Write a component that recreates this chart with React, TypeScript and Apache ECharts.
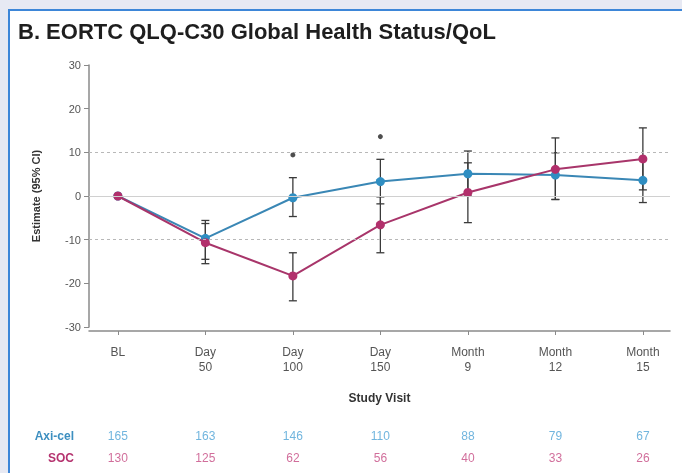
import React, { useEffect, useRef } from "react";
import * as echarts from "echarts";

const categories = ["BL", "Day\n50", "Day\n100", "Day\n150", "Month\n9", "Month\n12", "Month\n15"];
const visitIndex = [0, 1, 2, 3, 4, 5, 6];
const axiEst = [0, -9.7, -0.4, 3.3, 5.1, 4.8, 3.6];
const axiLow = [null, -14.5, -4.7, -1.8, 0, -0.8, -1.5];
const axiHigh = [null, -5.6, 4.2, 8.4, 10.3, 9.9, 8.7];
const socEst = [0, -10.7, -18.3, -6.6, 0.8, 6.1, 8.5];
const socLow = [null, -15.5, -24, -13, -6.1, -0.8, 1.4];
const socHigh = [null, -6.3, -13, -0.2, 7.6, 13.3, 15.6];
const sigIndex = [2, 3];
const sigY = [9.4, 13.6];
const axiN = [165, 163, 146, 110, 88, 79, 67];
const socN = [130, 125, 62, 56, 40, 33, 26];

const BLUE = "#2f8ec2";
const PINK = "#b2306c";
const BLUE_TXT = "#4ea3d6";
const PINK_TXT = "#c54a82";

function errData(low: (number | null)[], high: (number | null)[]) {
  const out: number[][] = [];
  visitIndex.forEach((i) => {
    if (low[i] != null && high[i] != null) out.push([i, low[i] as number, high[i] as number]);
  });
  return out;
}

const renderErr = (_params: any, api: any) => {
  const x = api.value(0);
  const p1 = api.coord([x, api.value(1)]);
  const p2 = api.coord([x, api.value(2)]);
  const w = 4;
  const st = { stroke: "#3a3a3a", lineWidth: 1.3 };
  return {
    type: "group",
    children: [
      { type: "line", shape: { x1: p1[0], y1: p1[1], x2: p2[0], y2: p2[1] }, style: st },
      { type: "line", shape: { x1: p1[0] - w, y1: p1[1], x2: p1[0] + w, y2: p1[1] }, style: st },
      { type: "line", shape: { x1: p2[0] - w, y1: p2[1], x2: p2[0] + w, y2: p2[1] }, style: st },
    ],
  };
};

export default function App() {
  const ref = useRef<HTMLDivElement>(null);
  useEffect(() => {
    if (!ref.current) return;
    const chart = echarts.init(ref.current, null, { renderer: "svg" });
    const xMin = -0.33;
    const xMax = 6.31;
    const font = "Liberation Sans, Arial, sans-serif";
    chart.setOption({
      animation: false,
      textStyle: { fontFamily: font },
      graphic: [
        { type: "rect", z: -10, shape: { x: 0, y: 0, width: 682, height: 473 }, style: { fill: "#e7e9f3" } },
        {
          type: "rect",
          z: -9,
          shape: { x: 9, y: 10, width: 680, height: 470 },
          style: { fill: "#ffffff", stroke: "#3d86d8", lineWidth: 2 },
        },
        {
          type: "text",
          left: 18,
          top: 20,
          style: {
            text: "B. EORTC QLQ-C30 Global Health Status/QoL",
            font: "bold 22px Liberation Sans, Arial, sans-serif",
            fill: "#1e1e1e",
          },
        },
      ],
      grid: [
        { left: 89, right: 12, top: 65, height: 262 },
        { left: 89, right: 12, top: 425, height: 44 },
      ],
      xAxis: [
        {
          type: "value",
          gridIndex: 0,
          min: xMin,
          max: xMax,
          offset: 4,
          name: "Study Visit",
          nameLocation: "middle",
          nameGap: 61,
          nameTextStyle: { fontWeight: "bold", fontSize: 12, color: "#333" },
          axisLine: { show: true, onZero: false, lineStyle: { color: "#8a8a8a", width: 1.5 } },
          axisTick: { show: true, customValues: visitIndex, length: 4, lineStyle: { color: "#8a8a8a" } },
          axisLabel: {
            customValues: visitIndex,
            formatter: (v: number) => categories[Math.round(v)] ?? "",
            color: "#555",
            fontSize: 12,
            lineHeight: 15,
            margin: 13,
          },
          splitLine: { show: false },
        },
        {
          type: "value",
          gridIndex: 1,
          min: xMin,
          max: xMax,
          show: false,
        },
      ],
      yAxis: [
        {
          type: "value",
          gridIndex: 0,
          min: -30,
          max: 30,
          interval: 10,
          name: "Estimate (95% CI)",
          nameLocation: "middle",
          nameGap: 48,
          nameTextStyle: { fontWeight: "bold", fontSize: 11, color: "#333" },
          axisLine: { show: true, onZero: false, lineStyle: { color: "#8a8a8a", width: 1.5 } },
          axisTick: { show: true, length: 5, lineStyle: { color: "#8a8a8a" } },
          axisLabel: { color: "#555", fontSize: 11, margin: 8 },
          splitLine: { show: false },
        },
        {
          type: "category",
          gridIndex: 1,
          data: ["Axi-cel", "SOC"],
          inverse: true,
          axisLine: { show: false },
          axisTick: { show: false },
          axisLabel: {
            margin: 15,
            formatter: (v: string) => (v === "SOC" ? "{s|SOC}" : "{a|Axi-cel}"),
            rich: {
              a: { color: "#3d8fc0", fontWeight: "bold", fontSize: 12 },
              s: { color: "#b5336f", fontWeight: "bold", fontSize: 12 },
            },
          },
        },
      ],
      series: [
        {
          type: "custom",
          name: "axiErr",
          xAxisIndex: 0,
          yAxisIndex: 0,
          renderItem: renderErr,
          data: errData(axiLow, axiHigh),
          encode: { x: 0, y: [1, 2] },
          z: 2,
          silent: true,
          markLine: {
            silent: true,
            symbol: "none",
            label: { show: false },
            lineStyle: { color: "#b8b8b8", type: [3, 3], width: 1.2 },
            data: [{ yAxis: 10 }, { yAxis: -10 }],
          },
        },
        {
          type: "custom",
          name: "socErr",
          xAxisIndex: 0,
          yAxisIndex: 0,
          renderItem: renderErr,
          data: errData(socLow, socHigh),
          encode: { x: 0, y: [1, 2] },
          z: 2,
          silent: true,
          markLine: {
            silent: true,
            symbol: "none",
            label: { show: false },
            lineStyle: { color: "#d0d0d0", type: "solid", width: 1.2 },
            data: [{ yAxis: 0 }],
          },
        },
        {
          type: "line",
          name: "Axi-cel",
          xAxisIndex: 0,
          yAxisIndex: 0,
          data: visitIndex.map((i) => [i, axiEst[i]]),
          symbol: "circle",
          symbolSize: 9,
          lineStyle: { color: "#3a87b5", width: 2 },
          itemStyle: { color: BLUE },
          z: 3,
        },
        {
          type: "line",
          name: "SOC",
          xAxisIndex: 0,
          yAxisIndex: 0,
          data: visitIndex.map((i) => [i, socEst[i]]),
          symbol: "circle",
          symbolSize: 9,
          lineStyle: { color: "#a8356a", width: 2 },
          itemStyle: { color: PINK },
          z: 4,
        },
        {
          type: "scatter",
          name: "sig",
          xAxisIndex: 0,
          yAxisIndex: 0,
          data: sigIndex.map((x, k) => [x, sigY[k]]),
          symbol: "circle",
          symbolSize: 5,
          itemStyle: { color: "#222" },
          z: 5,
        },
        {
          type: "scatter",
          name: "axiN",
          xAxisIndex: 1,
          yAxisIndex: 1,
          data: visitIndex.map((i) => [i, "Axi-cel", axiN[i]]),
          symbolSize: 2,
          itemStyle: { color: "rgba(255,255,255,0)" },
          label: {
            show: true,
            position: "inside",
            formatter: (p: any) => String(p.value[2]),
            color: BLUE_TXT,
            fontSize: 12,
          },
        },
        {
          type: "scatter",
          name: "socN",
          xAxisIndex: 1,
          yAxisIndex: 1,
          data: visitIndex.map((i) => [i, "SOC", socN[i]]),
          symbolSize: 2,
          itemStyle: { color: "rgba(255,255,255,0)" },
          label: {
            show: true,
            position: "inside",
            formatter: (p: any) => String(p.value[2]),
            color: PINK_TXT,
            fontSize: 12,
          },
        },
      ],
    });
    return () => chart.dispose();
  }, []);
  return (
    <div
      ref={ref}
      style={{ position: "fixed", left: 0, top: 0, width: 682, height: 473 }}
    />
  );
}
